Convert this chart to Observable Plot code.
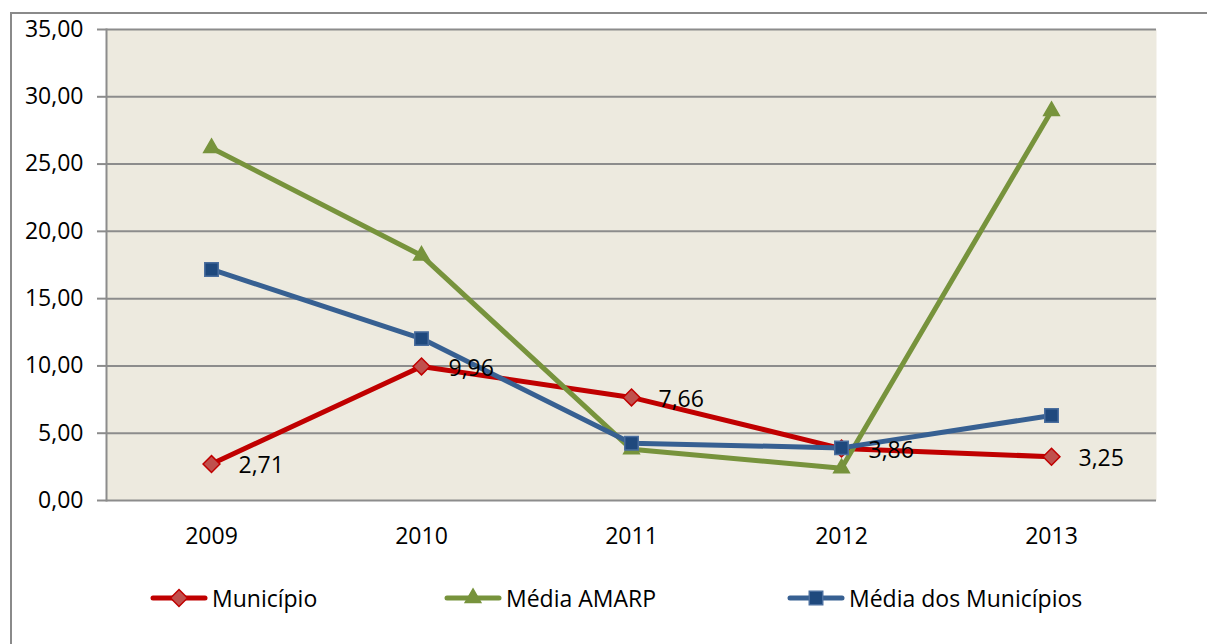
<!DOCTYPE html>
<html>
<head>
<meta charset="utf-8">
<script src="https://cdn.jsdelivr.net/npm/d3@7"></script>
<script src="https://cdn.jsdelivr.net/npm/@observablehq/plot@0.6"></script>
<style>
  html, body { margin: 0; padding: 0; background: #fff; overflow: hidden; width: 1207px; height: 644px; }
  #border { position: absolute; left: 10px; top: 12px; width: 1300px; height: 700px; border: 2px solid #8a8a8a; box-sizing: border-box; }
  #chart { position: absolute; left: 0; top: 0; }
  .leg { position: absolute; top: 584px; height: 28px; display: flex; align-items: center; font-family: "Open Sans", sans-serif; font-size: 23px; color: #000; white-space: nowrap; }
  .leg svg { display: block; margin-right: 4px; }
</style>
</head>
<body>
<div id="border"></div>
<div id="chart"></div>
<div id="legend"></div>
<script>
const years = [2009, 2010, 2011, 2012, 2013];
const seriesNames = ["Município", "Média AMARP", "Média dos Municípios"];
const municipio = [2.71, 9.96, 7.66, 3.86, 3.25];
const mediaAmarp = [26.2, 18.2, 3.8, 2.4, 28.95];
const mediaMunicipios = [17.17, 12.03, 4.26, 3.91, 6.32];
const yTicks = [0, 5, 10, 15, 20, 25, 30, 35];

const fmt = d3.formatLocale({decimal: ",", thousands: ".", grouping: [3], currency: ["R$", ""]}).format(".2f");

const styles = {
  "Município": {line: "#C00000", fill: "#C0504D", stroke: "#C00000", symbol: "diamond2", r: 7.6},
  "Média AMARP": {line: "#77933C", fill: "#77933C", stroke: "#77933C", symbol: "triangle", r: 5.8},
  "Média dos Municípios": {line: "#376092", fill: "#1F497D", stroke: "#4A6E9E", symbol: "square", r: 7.6}
};

const seriesValues = [municipio, mediaAmarp, mediaMunicipios];
const rows = seriesNames.map((name, i) => years.map((year, j) => ({series: name, year, value: seriesValues[i][j]})));

const marks = [
  Plot.frame({fill: "#EDEADF"}),
  Plot.gridY(yTicks, {stroke: "#8c8c8c", strokeOpacity: 1, strokeWidth: 2}),
  Plot.frame({anchor: "left", stroke: "#8c8c8c", strokeWidth: 2}),
  Plot.axisY(yTicks, {tickFormat: fmt, tickSize: 9, tickPadding: 14, stroke: "#8c8c8c", strokeWidth: 2, fill: "#000", label: null, fontSize: 23}),
  Plot.axisX({tickSize: 0, tickPadding: 27, tickFormat: d => String(d), fill: "#000", label: null, fontSize: 23})
];
rows.forEach((data, i) => {
  const s = styles[seriesNames[i]];
  marks.push(Plot.line(data, {x: "year", y: "value", stroke: s.line, strokeWidth: 5, strokeLinejoin: "round"}));
  marks.push(Plot.dot(data, {x: "year", y: "value", symbol: () => s.symbol, r: s.r, fill: s.fill, stroke: s.stroke, strokeWidth: 1.5}));
});
marks.push(Plot.text(rows[0], {x: "year", y: "value", text: d => fmt(d.value), dx: 27, dy: 2, textAnchor: "start", fill: "#000", fontSize: 23}));

const chart = Plot.plot({
  width: 1207,
  height: 560,
  marginLeft: 106,
  marginRight: 51,
  marginTop: 29,
  marginBottom: 60,
  style: {background: "transparent", fontFamily: "'Open Sans', sans-serif", fontSize: "23px", color: "#000"},
  x: {type: "point", domain: years, padding: 0.5, label: null},
  y: {domain: [0, 35], label: null},
  marks
});
document.getElementById("chart").appendChild(chart);

// Legend
const legendLeft = [150, 444, 787];
const legend = document.getElementById("legend");
seriesNames.forEach((name, i) => {
  const s = styles[name];
  const item = document.createElement("div");
  item.className = "leg";
  item.style.left = legendLeft[i] + "px";
  const svg = d3.create("svg").attr("width", 58).attr("height", 28);
  svg.append("line").attr("x1", 3).attr("x2", 55).attr("y1", 14).attr("y2", 14)
    .attr("stroke", s.line).attr("stroke-width", 5).attr("stroke-linecap", "round");
  const symMap = {diamond2: d3.symbolDiamond2, triangle: d3.symbolTriangle, square: d3.symbolSquare};
  svg.append("path").attr("transform", "translate(29,14)")
    .attr("d", d3.symbol(symMap[s.symbol], Math.PI * s.r * s.r)())
    .attr("fill", s.fill).attr("stroke", s.stroke).attr("stroke-width", 1.5);
  item.appendChild(svg.node());
  const span = document.createElement("span");
  span.textContent = name;
  item.appendChild(span);
  legend.appendChild(item);
});
</script>
</body>
</html>
